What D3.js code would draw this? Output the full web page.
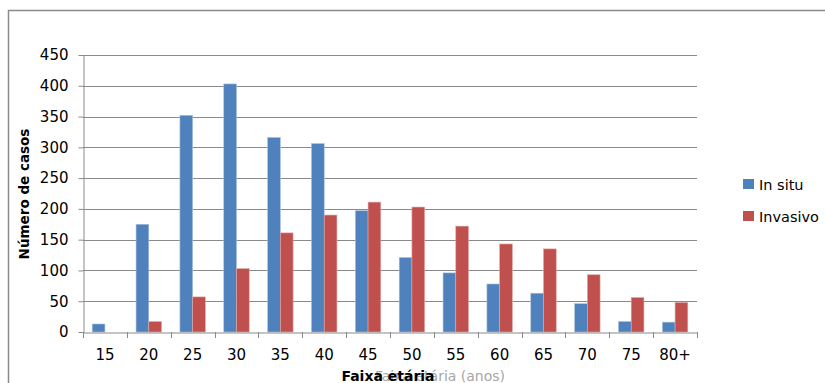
<!DOCTYPE html>
<html>
<head>
<meta charset="utf-8">
<script src="https://cdn.jsdelivr.net/npm/d3@7"></script>
<style>
  html, body { margin: 0; padding: 0; background: #fff; }
  svg { display: block; }
  text { font-family: "DejaVu Sans", sans-serif; fill: #000; }
</style>
</head>
<body>
<svg id="chart" width="825" height="383"></svg>
<script>
const categories = ["15","20","25","30","35","40","45","50","55","60","65","70","75","80+"];
const seriesNames = ["In situ", "Invasivo"];
const inSitu   = [13, 175, 352, 403, 316, 306, 197, 121, 96, 78, 63, 46, 17, 16];
const invasivo = [0, 17, 57, 103, 161, 190, 211, 203, 172, 143, 135, 93, 56, 48];
const yTicks = [0, 50, 100, 150, 200, 250, 300, 350, 400, 450];
const colors = ["#4F81BD", "#C0504D"];
const yTitle = "Número de casos";
const xTitle = "Faixa etária";
const xTitleGhost = "Faixa etária (anos)";

const svg = d3.select("#chart");
const plotL = 83, plotR = 697, plotT = 55, plotB = 332;

// outer frame (top and left edges visible)
svg.append("line").attr("x1", 8.5).attr("x2", 825).attr("y1", 10.5).attr("y2", 10.5)
  .attr("stroke", "#8a8a8a").attr("stroke-width", 1.5);
svg.append("line").attr("x1", 8.5).attr("x2", 8.5).attr("y1", 10).attr("y2", 383)
  .attr("stroke", "#8a8a8a").attr("stroke-width", 1.5);

const x0 = d3.scaleBand().domain(categories).range([plotL, plotR]).padding(0);
const bw = x0.bandwidth();
const x1 = d3.scaleBand().domain(seriesNames).range([bw * 0.21, bw * 0.79]).padding(0);
const y = d3.scaleLinear().domain([0, 450]).range([plotB, plotT]);

// y axis ticks
const yAxis = d3.axisLeft(y).tickValues(yTicks).tickSize(5).tickPadding(10).tickSizeOuter(0);
const gy = svg.append("g").attr("transform", `translate(${plotL + 0.5},0)`).call(yAxis);
gy.select(".domain").attr("stroke", "#8a8a8a");
gy.selectAll(".tick line").attr("stroke", "#8a8a8a");
gy.selectAll(".tick text").attr("font-size", 15).attr("font-family", "DejaVu Sans").attr("fill", "#000");

// gridlines
svg.append("g").selectAll("line").data(yTicks.filter(d => d > 0)).join("line")
  .attr("x1", plotL).attr("x2", plotR)
  .attr("y1", d => Math.round(y(d)) + 0.5).attr("y2", d => Math.round(y(d)) + 0.5)
  .attr("stroke", "#8a8a8a");

// bars
const data = categories.map((c, i) => ({ cat: c, vals: [inSitu[i], invasivo[i]] }));
const groups = svg.append("g").selectAll("g").data(data).join("g")
  .attr("transform", d => `translate(${x0(d.cat)},0)`);
groups.selectAll("rect").data(d => d.vals.map((v, j) => ({ v, j }))).join("rect")
  .attr("x", d => x1(seriesNames[d.j]))
  .attr("width", x1.bandwidth())
  .attr("y", d => y(d.v))
  .attr("height", d => y(0) - y(d.v))
  .attr("fill", d => colors[d.j])
  .attr("stroke", d => d.j === 0 ? "#a9c0de" : "#e0a8a6")
  .attr("stroke-width", 0.6)
  .style("display", d => d.v > 0 ? null : "none");

// x axis
const xAxis = d3.axisBottom(x0).tickSize(0).tickPadding(17).tickSizeOuter(0);
const gx = svg.append("g").attr("transform", `translate(0,${plotB + 0.5})`).call(xAxis);
gx.select(".domain").attr("stroke", "#8a8a8a");
gx.selectAll(".tick text").attr("font-size", 15).attr("font-family", "DejaVu Sans").attr("fill", "#000");
// boundary tick marks
const bounds = categories.map(c => x0(c)).concat([plotR]);
svg.append("g").selectAll("line").data(bounds).join("line")
  .attr("x1", d => Math.round(d) + 0.5).attr("x2", d => Math.round(d) + 0.5)
  .attr("y1", plotB).attr("y2", plotB + 6)
  .attr("stroke", "#8a8a8a");

// y axis title
svg.append("text").attr("transform", "translate(29,194) rotate(-90)")
  .attr("text-anchor", "middle").attr("font-size", 13.5).attr("font-weight", "bold")
  .text(yTitle);

// x axis titles (ghost + bold overlapping, as in the reference)
svg.append("text").attr("x", 440).attr("y", 381).attr("text-anchor", "middle")
  .attr("font-size", 14).style("fill", "#a6a6a6").text(xTitleGhost);
svg.append("text").attr("x", 388).attr("y", 381).attr("text-anchor", "middle")
  .attr("font-size", 14).attr("font-weight", "bold").text(xTitle);

// legend
const legend = svg.append("g").selectAll("g").data(seriesNames).join("g")
  .attr("transform", (d, i) => `translate(743,${179 + i * 32})`);
legend.append("rect").attr("width", 11).attr("height", 10).attr("fill", (d, i) => colors[i]);
legend.append("text").attr("x", 16).attr("y", 10.5).attr("font-size", 14.5).text(d => d);
</script>
</body>
</html>
